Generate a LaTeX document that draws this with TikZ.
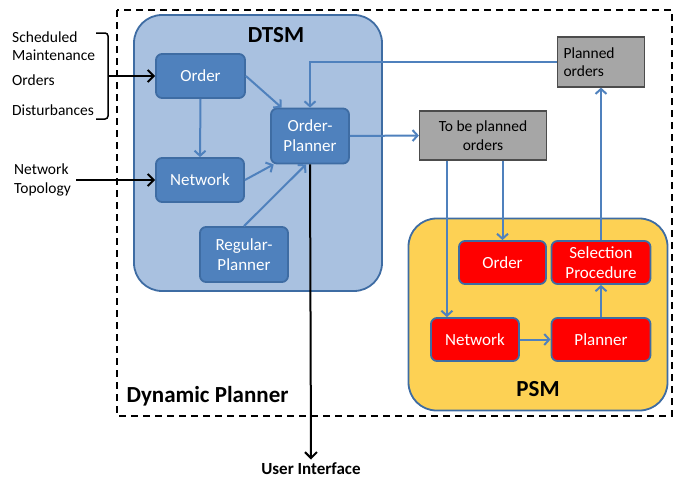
\documentclass[tikz,border=0pt]{standalone}
\usepackage{fontspec}
\setmainfont{Carlito}
\usepackage{tikz}
\usetikzlibrary{arrows.meta,calc}
\definecolor{dtsmblue}{HTML}{A9C1E0}
\definecolor{boxblue}{HTML}{4F81BD}
\definecolor{edgeblue}{HTML}{3E6CA3}
\definecolor{psmyellow}{HTML}{FDD154}
\definecolor{boxgray}{HTML}{A6A6A6}
\newcommand{\flowwidth}{2pt}
\newcommand{\bigfont}{\fontsize{23}{27}\selectfont\bfseries}
\tikzset{
  module/.style={draw=edgeblue, line width=1.8pt, rounded corners=28pt},
  bluebox/.style={draw=edgeblue, fill=boxblue, line width=1.8pt, rounded corners=6pt,
    text=white, align=center, inner sep=2pt, font=\fontsize{17}{20}\selectfont},
  redbox/.style={bluebox, fill=red},
  graybox/.style={draw=black!70, fill=boxgray, line width=1.2pt, align=center, inner sep=2pt},
  flow/.style={boxblue, line width=\flowwidth, -{Straight Barb[length=5pt,width=11pt]}},
  feed/.style={black, line width=2pt, -{Straight Barb[length=6pt,width=12pt]}}
}

\begin{document}
\begin{tikzpicture}[x=1pt,y=-1pt,font=\fontsize{15.5}{18.5}\selectfont]
\useasboundingbox (0,0) rectangle (681,479);
% dynamic planner frame
\draw[black, line width=1.8pt, dash pattern=on 7pt off 5pt] (117,10) rectangle (672,416);
\node[anchor=west, font=\bigfont] (dynplanner) at (123,396) {Dynamic Planner};
% DTSM
\node[module, fill=dtsmblue, minimum width=248pt, minimum height=276pt] (dtsm) at (258,153) {};
\node[font=\bigfont] (dtsmlabel) at (276,35) {DTSM};
\node[bluebox, minimum width=89pt, minimum height=44pt] (order) at (200.5,76) {Order};
\node[bluebox, minimum width=88pt, minimum height=44pt] (network) at (200,180) {Network};
\node[bluebox, minimum width=78pt, minimum height=55pt] (orderplanner) at (310,136) {Order-\\Planner};
\node[bluebox, minimum width=88pt, minimum height=55pt] (regular) at (244,254.5) {Regular-\\Planner};
% PSM
\node[module, fill=psmyellow, minimum width=259pt, minimum height=192pt] (psm) at (538,314.5) {};
\node[font=\bigfont] (psmlabel) at (538,389) {PSM};
\node[redbox, minimum width=87pt, minimum height=43pt] (psmorder) at (502.5,262.5) {Order};
\node[redbox, minimum width=99pt, minimum height=43pt] (selection) at (601,262.5) {Selection\\Procedure};
\node[redbox, minimum width=88pt, minimum height=43pt] (psmnetwork) at (475,339.5) {Network};
\node[redbox, minimum width=99pt, minimum height=43pt] (planner) at (601,339.5) {Planner};
% order lists
\node[graybox, minimum width=127pt, minimum height=49pt] (tobeplanned) at (483,135.5) {To be planned\\orders};
\node[graybox, inner sep=6pt, text width=75pt, align=left, minimum height=50pt] (planned) at (601,62) {Planned\\orders};
% inputs and output
\node[anchor=west, inner sep=0pt, align=left] (maint) at (12,46) {Scheduled\\Maintenance};
\node[anchor=west, inner sep=0pt] (orders) at (12,80) {Orders};
\node[anchor=west, inner sep=0pt] (disturb) at (12,110) {Disturbances};
\node[anchor=west, inner sep=0pt, align=left] (topology) at (14,180) {Network\\Topology};
\node[font=\fontsize{17}{20}\selectfont\bfseries] (ui) at (311,469) {User Interface};
% brace
\coordinate (bracetip) at (113,76);
\draw[black, line width=1.5pt, rounded corners=3pt] (96,33) -- (108,33) -- (108,119) -- (96,119);
\draw[black, line width=1.5pt] (108,76) -- (bracetip);

\draw[feed] (bracetip) -- (order.west);
\draw[feed] ([xshift=5pt]topology.east) -- (network.west);
\draw[feed] (orderplanner.south) -- (ui.north);

\draw[flow] (order.south) -- (network.north);
\draw[flow] (order.east) -- (orderplanner.135);
\draw[flow] (network.east) -- (orderplanner.218);
\draw[flow] (regular.north) -- (orderplanner.262);
\draw[flow] (orderplanner.east) -- (tobeplanned.west);
\draw[flow] (planned.west) -| (orderplanner.north);
\draw[flow] ([xshift=28pt]tobeplanned.south west) -- ([xshift=28pt]tobeplanned.south west |- psmnetwork.north);
\draw[flow] (tobeplanned.south -| psmorder.north) -- (psmorder.north);
\draw[flow] (psmnetwork.east) -- (planner.west);
\draw[flow] (planner.north) -- (selection.south);
\draw[flow] (selection.north) -- (planned.south);
\end{tikzpicture}
\end{document}
